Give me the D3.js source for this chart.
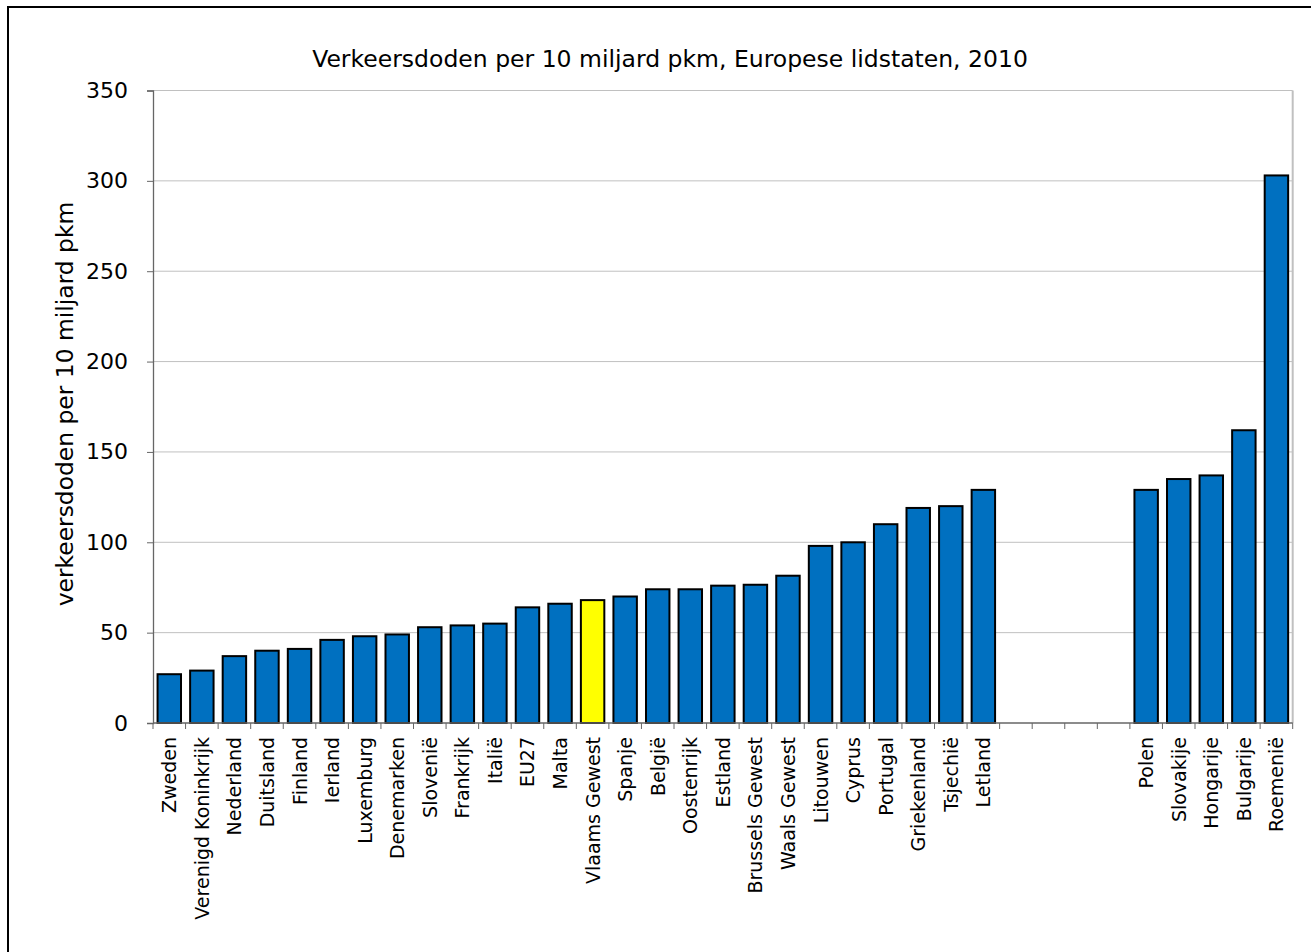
<!DOCTYPE html>
<html>
<head>
<meta charset="utf-8">
<script src="https://cdn.jsdelivr.net/npm/d3@7"></script>
<style>
  html, body { margin: 0; padding: 0; background: #fff; overflow: hidden; }
  svg { display: block; }
  text { font-family: "DejaVu Sans", Verdana, sans-serif; fill: #000; }
</style>
</head>
<body>
<svg id="chart" width="1311" height="952"></svg>
<script>
const categories = ["Zweden", "Verenigd Koninkrijk", "Nederland", "Duitsland", "Finland", "Ierland",
  "Luxemburg", "Denemarken", "Slovenië", "Frankrijk", "Italië", "EU27", "Malta", "Vlaams Gewest",
  "Spanje", "België", "Oostenrijk", "Estland", "Brussels Gewest", "Waals Gewest", "Litouwen",
  "Cyprus", "Portugal", "Griekenland", "Tsjechië", "Letland", "", "", "", "",
  "Polen", "Slovakije", "Hongarije", "Bulgarije", "Roemenië"];
const values = [27, 29, 37, 40, 41, 46, 48, 49, 53, 54, 55, 64, 66, 68, 70, 74, 74, 76, 76.5, 81.5,
  98, 100, 110, 119, 120, 129, null, null, null, null, 129, 135, 137, 162, 303];
const highlighted = ["Vlaams Gewest"];
const yTicks = [0, 50, 100, 150, 200, 250, 300, 350];
const title = "Verkeersdoden per 10 miljard pkm, Europese lidstaten, 2010";
const yLabel = "verkeersdoden per 10 miljard pkm";

const svg = d3.select("#chart");

// outer frame (cut off at right/bottom as in reference)
svg.append("rect").attr("x", 8).attr("y", 7).attr("width", 1400).attr("height", 1000)
  .attr("fill", "none").attr("stroke", "#000").attr("stroke-width", 2);

const pLeft = 153, pRight = 1292.7, pTop = 90.5, pBottom = 723;

const x = d3.scaleBand().domain(d3.range(categories.length)).range([pLeft, pRight])
  .paddingInner(0.28).paddingOuter(0.14);
const y = d3.scaleLinear().domain([0, 350]).range([pBottom, pTop]);

// gridlines
svg.append("g").selectAll("line").data(yTicks.filter(t => t > 0)).join("line")
  .attr("x1", pLeft).attr("x2", pRight)
  .attr("y1", d => y(d)).attr("y2", d => y(d))
  .attr("stroke", "#c0c0c0").attr("stroke-width", 1);

// right border of plot area
svg.append("line").attr("x1", pRight).attr("x2", pRight).attr("y1", pTop).attr("y2", pBottom)
  .attr("stroke", "#c0c0c0").attr("stroke-width", 2);

// bars
const data = categories.map((c, i) => ({ i, c, v: values[i] })).filter(d => d.v != null);
svg.append("g").selectAll("rect").data(data).join("rect")
  .attr("x", d => x(d.i)).attr("width", x.bandwidth())
  .attr("y", d => y(d.v)).attr("height", d => y(0) - y(d.v))
  .attr("fill", d => highlighted.includes(d.c) ? "#FFFF00" : "#0070C0")
  .attr("stroke", "#000").attr("stroke-width", 2);

// y axis
const yAxis = d3.axisLeft(y).tickValues(yTicks).tickSize(6).tickPadding(19);
const gy = svg.append("g").attr("transform", `translate(${pLeft},0)`).call(yAxis);
gy.select(".domain").attr("stroke", "#666").attr("stroke-width", 1.3);
gy.selectAll(".tick line").attr("stroke", "#666");
gy.selectAll(".tick text").attr("font-size", 22).attr("font-family", "DejaVu Sans");

// x axis line
svg.append("line").attr("x1", pLeft).attr("x2", pRight).attr("y1", pBottom).attr("y2", pBottom)
  .attr("stroke", "#666").attr("stroke-width", 1.3);
// x ticks between categories
const step = x.step();
svg.append("g").selectAll("line").data(d3.range(categories.length + 1)).join("line")
  .attr("x1", d => pLeft + d * step).attr("x2", d => pLeft + d * step)
  .attr("y1", pBottom).attr("y2", pBottom + 6)
  .attr("stroke", "#666").attr("stroke-width", 1);

// x labels
svg.append("g").selectAll("text").data(categories.map((c, i) => ({ c, i }))).join("text")
  .attr("transform", d => `translate(${x(d.i) + x.bandwidth() / 2 + 7},737) rotate(-90)`)
  .attr("text-anchor", "end")
  .attr("font-size", 19)
  .text(d => d.c);

// title
svg.append("text").attr("x", 670).attr("y", 67).attr("text-anchor", "middle")
  .attr("font-size", 23.5).text(title);

// y label
svg.append("text").attr("transform", "translate(73,404) rotate(-90)")
  .attr("text-anchor", "middle").attr("font-size", 23.4).text(yLabel);
</script>
</body>
</html>
